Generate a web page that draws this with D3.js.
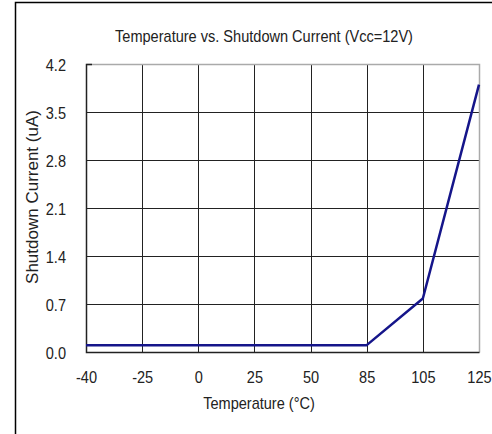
<!DOCTYPE html>
<html><head><meta charset="utf-8">
<script src="https://cdn.jsdelivr.net/npm/d3@7"></script>
<style>
body{margin:0;background:#fff;}
svg{display:block;}
text{font-family:"Liberation Sans Narrow","Arial Narrow","Liberation Sans",Arial,sans-serif;fill:#222;}
</style></head>
<body><svg id="c" width="492" height="434"></svg>
<script>
const temperatures = ["-40","-25","0","25","50","85","105","125"];
const currentValues = [0.1,0.1,0.1,0.1,0.1,0.1,0.78,3.9];
const yTicks = [0.0,0.7,1.4,2.1,2.8,3.5,4.2];
const titleText = "Temperature vs. Shutdown Current (Vcc=12V)";
const xTitle = "Temperature (°C)";
const yTitle = "Shutdown Current (uA)";

const SX = 0.91, FS = 16;
const svg = d3.select("#c");
const L = 86, R = 479, T = 64, B = 352;

// outer frame (left and top edges visible)
svg.append("path").attr("d", `M15.5,434 V2.5 H492`).attr("fill","none").attr("stroke","#000").attr("stroke-width",1.5);

const x = d3.scalePoint().domain(temperatures).range([L, R]);
const y = d3.scaleLinear().domain([0, 4.2]).range([B, T]);

// horizontal gridlines
svg.append("g").selectAll("line").data(yTicks.slice(1, -1)).join("line")
  .attr("x1", L).attr("x2", R).attr("y1", d => Math.round(y(d)) + 0.5).attr("y2", d => Math.round(y(d)) + 0.5)
  .attr("stroke", "#222").attr("stroke-width", 1);
// vertical gridlines
svg.append("g").selectAll("line").data(temperatures.slice(1, -1)).join("line")
  .attr("x1", d => Math.round(x(d)) + 0.5).attr("x2", d => Math.round(x(d)) + 0.5).attr("y1", T).attr("y2", B)
  .attr("stroke", "#222").attr("stroke-width", 1);

// plot border: top/right light gray, left/bottom dark
svg.append("path").attr("d", `M${L+0.5},${T+0.5} H${R+0.5} V${B+0.5}`).attr("fill","none").attr("stroke","#aaa").attr("stroke-width",1.5);
svg.append("path").attr("d", `M${L+6},${T+0.5} H${L+0.5} V${B+0.5} H${R+0.5}`).attr("fill","none").attr("stroke","#222").attr("stroke-width",1.5);

// y tick labels
const yAxis = d3.axisLeft(y).tickValues(yTicks).tickFormat(d3.format(".1f")).tickSize(0).tickPadding(20);
const gy = svg.append("g").attr("transform", `translate(${L},0)`).call(yAxis);
gy.select(".domain").remove();
gy.selectAll("text").attr("font-size", FS).attr("font-family", null)
  .attr("x", 0).attr("dy", "0.42em").attr("transform", `translate(-20,0) scale(${SX},1)`);

// x tick labels
const xAxis = d3.axisBottom(x).tickSize(0).tickPadding(21);
const gx = svg.append("g").attr("transform", `translate(0,${B})`).call(xAxis);
gx.select(".domain").remove();
gx.selectAll("text").attr("font-size", FS).attr("font-family", null)
  .attr("y", 0).attr("transform", `translate(0,20) scale(${SX},1)`);

// line
const line = d3.line().x((d, i) => x(temperatures[i])).y(d => y(d));
svg.append("path").datum(currentValues).attr("d", line)
  .attr("fill", "none").attr("stroke", "#15158a").attr("stroke-width", 2.5).attr("stroke-linejoin","round");

// titles
svg.append("text").attr("transform", `translate(264,42) scale(${SX},1)`).attr("text-anchor", "middle").attr("font-size", FS).text(titleText);
svg.append("text").attr("transform", `translate(259,409) scale(${SX},1)`).attr("text-anchor", "middle").attr("font-size", FS).text(xTitle);
svg.append("text").attr("transform", `translate(38,197) rotate(-90)`).attr("text-anchor", "middle").attr("font-size", 17).text(yTitle);
</script></body></html>
